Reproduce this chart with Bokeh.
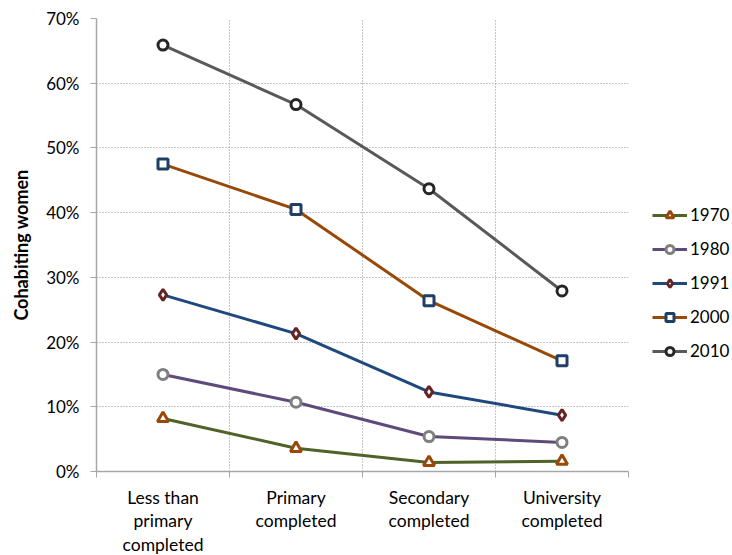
from bokeh.plotting import figure
from bokeh.models import (FixedTicker, NumeralTickFormatter, Legend, LegendItem, Range1d)
from bokeh.embed import file_html
from bokeh.resources import INLINE

categories = ["Less than\nprimary\ncompleted", "Primary\ncompleted", "Secondary\ncompleted", "University\ncompleted"]
years = ["1970", "1980", "1991", "2000", "2010"]
v1970 = [0.082, 0.036, 0.014, 0.016]
v1980 = [0.150, 0.107, 0.054, 0.045]
v1991 = [0.273, 0.213, 0.123, 0.087]
v2000 = [0.475, 0.405, 0.264, 0.171]
v2010 = [0.659, 0.567, 0.437, 0.279]
series = [v1970, v1980, v1991, v2000, v2010]
y_ticks = [0, 0.1, 0.2, 0.3, 0.4, 0.5, 0.6, 0.7]

line_colors = ["#4F6228", "#604A7B", "#1F497D", "#984807", "#595959"]
marker_colors = ["#984807", "#7F7F7F", "#632523", "#1F3F66", "#262626"]
markers = ["triangle", "circle", "diamond", "square", "circle"]
msizes = [11, 10, 11, 10, 10]

FONT = "Lato"

xs = [i + 0.5 for i in range(len(categories))]

p = figure(width=724, height=553, output_backend="svg", toolbar_location=None,
           x_range=Range1d(0, len(categories)), y_range=Range1d(0, 0.7),
           min_border_left=96, min_border_top=18, min_border_bottom=82,
           frame_width=532, frame_height=453)
p.outline_line_color = None
p.background_fill_color = "white"

# X axis
p.xaxis.ticker = FixedTicker(ticks=xs, minor_ticks=list(range(len(categories) + 1)))
p.xaxis.major_label_overrides = {x: c for x, c in zip(xs, categories)}
p.xaxis.major_tick_line_color = None
p.xaxis.minor_tick_line_color = "#A6A6A6"
p.xaxis.minor_tick_out = 6
p.xaxis.minor_tick_in = 0
p.xaxis.axis_line_color = "#A6A6A6"
p.xaxis.axis_line_width = 1.5
p.xaxis.major_label_text_font = FONT
p.xaxis.major_label_text_font_size = "17.5px"
p.xaxis.major_label_text_color = "#000000"
p.xaxis.major_label_standoff = 9
p.xaxis.major_label_text_line_height = 1.12

# Y axis
p.yaxis.ticker = FixedTicker(ticks=y_ticks)
p.yaxis.formatter = NumeralTickFormatter(format="0%")
p.yaxis.minor_tick_line_color = None
p.yaxis.major_tick_out = 6
p.yaxis.major_tick_in = 0
p.yaxis.major_tick_line_color = "#A6A6A6"
p.yaxis.axis_line_color = "#A6A6A6"
p.yaxis.axis_line_width = 1.5
p.yaxis.major_label_text_font = FONT
p.yaxis.major_label_text_font_size = "17px"
p.yaxis.major_label_text_color = "#000000"
p.yaxis.major_label_standoff = 11
p.yaxis.axis_label = "Cohabiting women"
p.yaxis.axis_label_text_font = FONT
p.yaxis.axis_label_text_font_style = "bold"
p.yaxis.axis_label_text_font_size = "18px"
p.yaxis.axis_label_text_color = "#000000"
p.yaxis.axis_label_standoff = 11

# Grids
p.xgrid.ticker = FixedTicker(ticks=list(range(1, len(categories) + 1)))
p.xgrid.grid_line_color = "#8C8C8C"
p.xgrid.grid_line_dash = "1 2"
p.ygrid.ticker = FixedTicker(ticks=y_ticks[1:])
p.ygrid.grid_line_color = "#8C8C8C"
p.ygrid.grid_line_dash = "1 2"

items = []
for name, vals, lc, mc, mk, ms in zip(years, series, line_colors, marker_colors, markers, msizes):
    l = p.line(xs, vals, line_color=lc, line_width=3)
    s = p.scatter(xs, vals, marker=mk, size=ms, line_color=mc, line_width=3, fill_color="white")
    items.append(LegendItem(label=name, renderers=[l, s]))

legend = Legend(items=items, location=(24, 110), orientation="vertical",
                glyph_width=35, glyph_height=20, spacing=13, label_standoff=3,
                padding=0, margin=0, border_line_color=None, background_fill_alpha=0,
                label_text_font=FONT, label_text_font_size="17px", label_text_color="#000000")
p.add_layout(legend, "right")

open("out.html", "w").write(file_html(p, INLINE))
